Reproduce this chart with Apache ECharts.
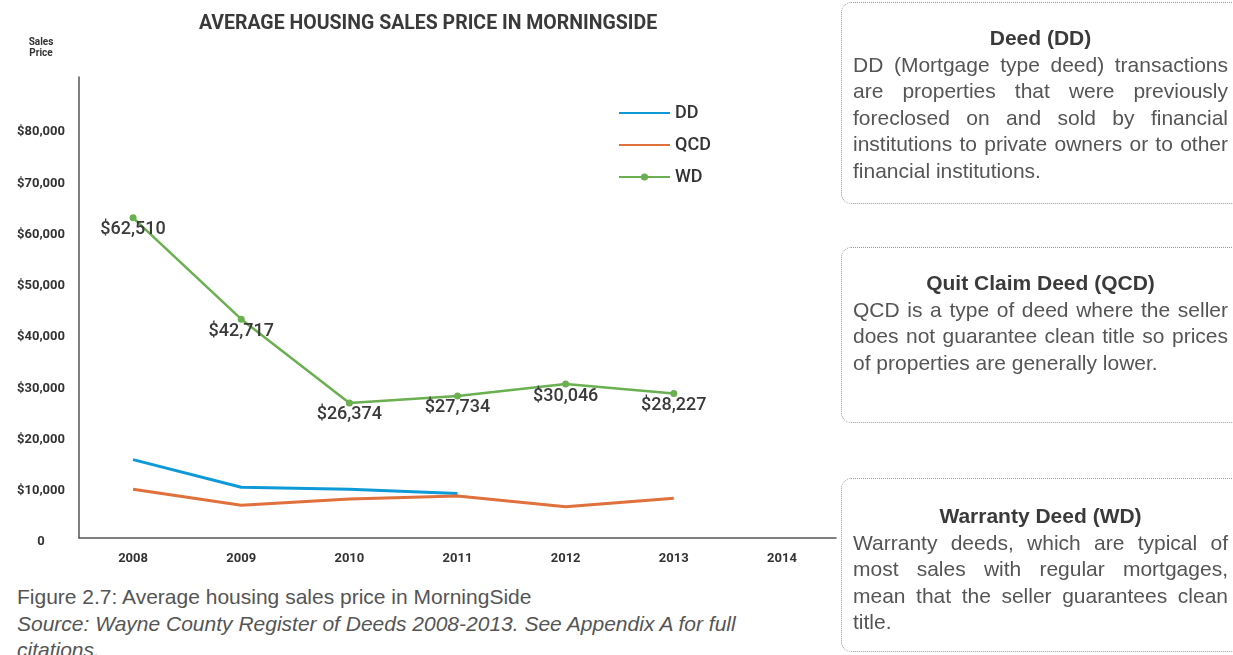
<!DOCTYPE html>
<html>
<head>
<meta charset="utf-8">
<script src="https://cdn.jsdelivr.net/npm/echarts@6.0.0/dist/echarts.min.js"></script>
<style>
  html, body { margin: 0; padding: 0; background: #fff; width: 1233px; height: 655px; overflow: hidden; }
  #chart { position: absolute; left: 0; top: 0; width: 856px; height: 580px; }
  .box {
    position: absolute; left: 841px; width: 420px; box-sizing: border-box;
    border: 1px dotted #9a9a9a; border-radius: 10px;
    padding: 22px 0 0 11px;
    font-family: "Liberation Sans", Arial, sans-serif; font-size: 21px; line-height: 26.5px; color: #555;
  }
  .box h3 { margin: 0; width: 375px; text-align: center; font-size: 21px; font-weight: bold; color: #3a3a3a; line-height: 26.5px; }
  .box p { margin: 0; width: 375px; text-align: justify; }
  #caption {
    position: absolute; left: 17px; top: 584px; width: 760px;
    font-family: "Liberation Sans", Arial, sans-serif; font-size: 21px; line-height: 26.5px; color: #555;
  }
</style>
</head>
<body>
<div id="chart"></div>

<div class="box" style="top:2px;height:202px;">
  <h3>Deed (DD)</h3>
  <p>DD (Mortgage type deed) transactions are properties that were previously foreclosed on and sold by financial institutions to private owners or to other financial institutions.</p>
</div>
<div class="box" style="top:247px;height:176px;">
  <h3>Quit Claim Deed (QCD)</h3>
  <p>QCD is a type of deed where the seller does not guarantee clean title so prices of properties are generally lower.</p>
</div>
<div class="box" style="top:478px;height:174px;">
  <h3 style="margin-top:2px;">Warranty Deed (WD)</h3>
  <p>Warranty deeds, which are typical of most sales with regular mortgages, mean that the seller guarantees clean title.</p>
</div>

<div id="caption">
  Figure 2.7: Average housing sales price in MorningSide<br>
  <i>Source: Wayne County Register of Deeds 2008-2013. See Appendix A for full citations.</i>
</div>

<script>
// 数据
var years = ['2008', '2009', '2010', '2011', '2012', '2013', '2014'];
var ddValues = [15300, 9900, 9500, 8700, null, null, null];
var qcdValues = [9500, 6400, 7600, 8200, 6100, 7750, null];
var wdValues = [62510, 42717, 26374, 27734, 30046, 28227, null];

var myChart = echarts.init(document.getElementById('chart'));

function money(v) {
    return '$' + Number(v).toLocaleString('en-US');
}

var option = {
    animation: false,
    textStyle: { fontFamily: 'Roboto' },
    title: {
        text: 'AVERAGE HOUSING SALES PRICE IN MORNINGSIDE',
        left: 'center',
        top: 9,
        textStyle: { fontSize: 19.5, fontWeight: 'bold', color: '#3a3a3a', fontFamily: 'Roboto' }
    },
    graphic: [{
        type: 'text',
        x: 41,
        y: 37,
        style: {
            text: 'Sales\nPrice',
            align: 'center',
            fontSize: 10,
            fontWeight: 'bold',
            fontFamily: 'Roboto',
            lineHeight: 11,
            fill: '#333'
        }
    }],
    // 图例: DD / QCD 只显示线
    legend: {
        orient: 'vertical',
        left: 613,
        top: 99,
        itemWidth: 51,
        itemHeight: 9,
        itemGap: 14,
        textStyle: { fontSize: 18, fontWeight: 500, color: '#333' },
        data: [
            { name: 'DD', itemStyle: { opacity: 0 } },
            { name: 'QCD', itemStyle: { opacity: 0 } },
            'WD'
        ]
    },
    grid: { left: 79, right: 20, top: 77, bottom: 42 },
    xAxis: {
        type: 'category',
        data: years,
        boundaryGap: true,
        axisLine: { lineStyle: { color: '#555', width: 1.5 } },
        axisTick: { show: false },
        axisLabel: { margin: 14, fontSize: 13, fontWeight: 'bold', color: '#333' }
    },
    yAxis: {
        type: 'value',
        min: 0,
        max: 90000,
        interval: 10000,
        splitLine: { show: false },
        axisLine: { show: true, lineStyle: { color: '#555', width: 1.5 } },
        axisTick: { show: false },
        axisLabel: {
            margin: 38,
            align: 'center',
            verticalAlign: 'top',
            lineHeight: 8,
            fontSize: 13,
            fontWeight: 'bold',
            color: '#333',
            formatter: function (v) {
                if (v === 0) return '0';
                if (v === 90000) return '';
                return money(v);
            }
        }
    },
    series: [{
        name: 'DD',
        type: 'line',
        data: ddValues,
        symbol: 'circle',
        showSymbol: false,
        color: '#0e9ad7',
        lineStyle: { width: 3 }
    }, {
        name: 'QCD',
        type: 'line',
        data: qcdValues,
        symbol: 'circle',
        showSymbol: false,
        color: '#e0703c',
        lineStyle: { width: 3 }
    }, {
        name: 'WD',
        type: 'line',
        data: wdValues,
        symbol: 'circle',
        symbolSize: 7,
        color: '#6aaf50',
        lineStyle: { width: 2.5 },
        label: {
            show: true,
            position: 'inside',
            offset: [0, 12],
            fontSize: 18,
            fontWeight: 500,
            color: '#3a3a3a',
            formatter: function (p) { return money(p.value); }
        }
    }]
};

myChart.setOption(option);
</script>
</body>
</html>
